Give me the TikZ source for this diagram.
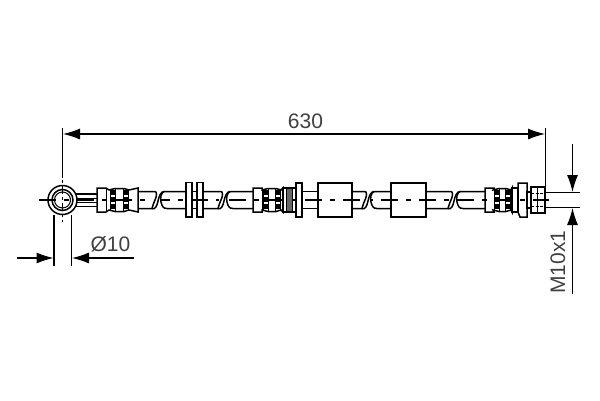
\documentclass[tikz,border=0pt]{standalone}
\usepackage{fontspec}
\setmainfont{Liberation Sans}
\usetikzlibrary{arrows.meta}

\tikzset{
  part/.style={black,line width=1.5pt,fill=white},
  thinpart/.style={black,line width=1pt},
  extline/.style={black,line width=1.1pt},
  dimline/.style={black,line width=1.1pt,-{Latex[length=17pt,width=11pt]}},
  dimtext/.style={inner sep=0pt,font=\fontsize{21}{21}\selectfont,text=black!75},
  centerline/.style={black,line width=1.3pt,dash pattern=on 17pt off 8pt on 5pt off 8pt},
}

% x0, first column, second column, end
\newcommand{\ferrule}[4]{
  \begin{scope}[shift={(#1,200)}]
    \draw[part] (0,-12) -- (9,-12) -- ({#2-4},-10) -- ({#2+2},-11.5) -- ({#3-2},-11.5) -- ({#3+3},-10) -- (#4,-12)
      -- (#4,12) -- ({#3+3},10) -- ({#3-2},11.5) -- ({#2+2},11.5) -- ({#2-4},10) -- (9,12) -- (0,12) -- cycle;
    \draw[thinpart] (9,-12) -- (9,12);
    \draw[thinpart] ({#2-2.5},-10.5) -- ({#2-2.5},10.5) ({#2+2.5},-11) -- ({#2+2.5},11);
    \draw[thinpart] ({#3-2.5},-11) -- ({#3-2.5},11) ({#3+2.5},-10.5) -- ({#3+2.5},10.5);
    \draw[line width=4pt,dash pattern=on 4.5pt off 2.5pt] (#2,-10) -- (#2,11);
    \draw[line width=4pt,dash pattern=on 4.5pt off 2.5pt] (#3,-10) -- (#3,11);
  \end{scope}
}
% tube with the curved break lines
\newcommand{\tubebreak}[3]{
  \fill[white] ({#2-7},196) rectangle (#2,204);
  \draw[part,fill=none] (#1,191.5) -- ({#2-5},191.5) .. controls ({#2-3},191.5) and ({#2-3},196) .. ({#2-5},200)
    .. controls ({#2-6.5},203) and ({#2-8},208.5) .. ({#2-8},208.5) -- (#1,208.5);
  \draw[part,fill=none] ({#2-8},208.5) .. controls ({#2-5},210) and ({#2-3},206) .. ({#2-2},201)
    .. controls ({#2-1},196) and ({#2+1},191.5) .. ({#2+4},191.5) -- (#3,191.5);
  \draw[part,fill=none] ({#2+4},191.5) .. controls ({#2+1},193) and ({#2},198) .. ({#2+1},202)
    .. controls ({#2+2},206) and ({#2+3},208.5) .. ({#2+7},208.5) -- (#3,208.5);
}

\begin{document}
\begin{tikzpicture}[x=1pt,y=-1pt]
\useasboundingbox (0,0) rectangle (600,400);
\coordinate (A) at (62.5,128);
\coordinate (B) at (62.5,178);
\coordinate (C) at (545.5,128);
\coordinate (D) at (545.5,196);
\coordinate (E) at (63,134);
\coordinate (F) at (545,134);
\coordinate (G) at (54,215);
\coordinate (H) at (54,266);
\coordinate (I) at (71.5,215);
\coordinate (J) at (71.5,266);
\coordinate (K) at (17,258);
\coordinate (L) at (53.5,258);
\coordinate (M) at (134,258);
\coordinate (N) at (72,258);
\coordinate (O) at (545,192.5);
\coordinate (P) at (580,192.5);
\coordinate (Q) at (545,207.5);
\coordinate (R) at (580,207.5);
\coordinate (S) at (572.5,144);
\coordinate (T) at (572.5,192);
\coordinate (U) at (572.5,294);
\coordinate (V) at (572.5,208);
\coordinate (W) at (39,200);
\coordinate (X) at (549,200);

% hose
\draw[part] (74,194) -- (97,194) (74,206.5) -- (97,206.5);
\draw[thinpart] (76,198.7) -- (97,198.7) (76,202) -- (97,202);
\draw[part] (302,191.5) -- (318,191.5) (302,208.5) -- (318,208.5);
\draw[part] (192,191.5) -- (197,191.5) (192,208.5) -- (197,208.5);

% fittings
\ferrule{97}{16}{29}{41}
\ferrule{253}{13}{25}{30}
\ferrule{485}{12}{23}{27}
\draw[part] (186,182.5) rectangle (192,217);
\draw[part] (197,182.5) rectangle (203,217);
\draw[part] (283,188) rectangle (296,212);
\fill[black!60] (287,189) rectangle (292,211);
\draw[thinpart] (286,188) -- (286,212) (292,188) -- (292,212);
\draw[part] (296,183) rectangle (302,217);
\draw[part] (318,183) rectangle (352,217);
\draw[part] (391,183) rectangle (426,217);
\draw[part] (512,188) rectangle (518,212);
\draw[part] (518,183) -- (527,183) -- (527,217) -- (520,217) -- (518,212) -- cycle;
\draw[part] (527,192) rectangle (531,208);
\draw[part] (531,187) rectangle (545,213);
\draw[thinpart] (537.5,187) -- (537.5,213);
\draw[thinpart,dash pattern=on 3pt off 1.5pt] (531,193) -- (545,193) (531,206.5) -- (545,206.5);

% eye
\draw[part] (62.5,200) circle (14.5);
\draw[part] (62.5,200) circle (10.5);
\draw[thinpart] (62.5,200) circle (8);
\draw[centerline] (W) -- (X);
\draw[thinpart,dash pattern=on 3pt off 3pt on 8pt off 3pt] (62.5,180) -- (62.5,222);

\tubebreak{138}{160}{186}
\tubebreak{203}{226}{253}
\tubebreak{352}{370}{391}
\tubebreak{426}{456}{485}

% dimensions
\draw[extline] (A) -- (B);
\draw[extline] (C) -- (D);
\draw[extline] (G) -- (H);
\draw[extline] (I) -- (J);
\draw[extline] (O) -- (P);
\draw[extline] (Q) -- (R);
\draw[dimline,{Latex[length=17pt,width=11pt]}-{Latex[length=17pt,width=11pt]}] (E) -- (F);
\draw[dimline] (K) -- (L);
\draw[dimline] (M) -- (N);
\draw[dimline] (S) -- (T);
\draw[dimline] (U) -- (V);
\node[dimtext] (length) at (305.5,121) {630};
\node[dimtext] (bore) at (110.5,244) {Ø10};
\node[dimtext,rotate=90] (thread) at (558,262) {M10x1};
\end{tikzpicture}
\end{document}
